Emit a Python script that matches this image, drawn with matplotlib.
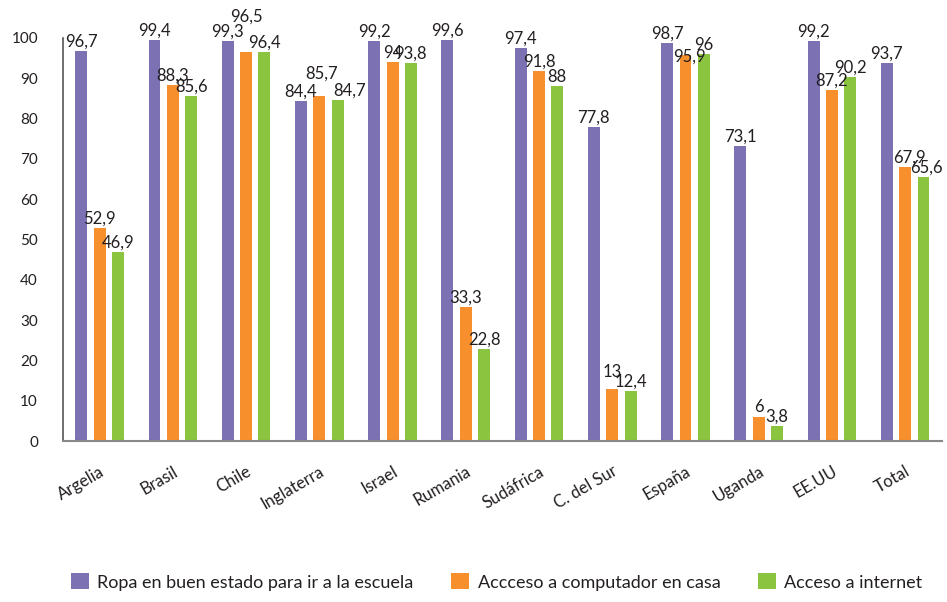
# Acceso a recursos por pais - barras agrupadas
import numpy as np
import matplotlib
matplotlib.use("Agg")
import matplotlib.pyplot as plt
from matplotlib.patches import Patch

# =====================================================
# DATOS
# =====================================================

paises = ["Argelia", "Brasil", "Chile", "Inglaterra", "Israel", "Rumania",
          "Sudáfrica", "C. del Sur", "España", "Uganda", "EE.UU", "Total"]

ropa = [96.7, 99.4, 99.3, 84.4, 99.2, 99.6, 97.4, 77.8, 98.7, 73.1, 99.2, 93.7]
computador = [52.9, 88.3, 96.5, 85.7, 94.0, 33.3, 91.8, 13.0, 95.9, 6.0, 87.2, 67.9]
internet = [46.9, 85.6, 96.4, 84.7, 93.8, 22.8, 88.0, 12.4, 96.0, 3.8, 90.2, 65.6]

series = ["Ropa en buen estado para ir a la escuela",
          "Accceso a computador en casa",
          "Acceso a internet"]

# =====================================================
# ESTILO
# =====================================================

plt.rcParams["font.family"] = ["Lato", "DejaVu Sans"]
cores = ["#7b71b3", "#f68f2c", "#8bc43f"]
texto = "#231f20"

fig = plt.figure(figsize=(9.47, 6.02), dpi=100)
ax = fig.add_axes([0.0665, 0.2674, 0.928, 0.6695])

x = np.arange(len(paises))
largura = 0.163
desloc = 0.25

# pequeños ajustes de etiquetas (dx en unidades de x, dy en puntos)
ajuste = {
    (2, 1): (0.0, 19),
    (3, 1): (0.03, 9),
    (3, 2): (0.16, 0),
    (7, 1): (0.0, 5),
    (8, 1): (0.05, -8),
    (11, 1): (0.06, 0),
    (11, 2): (0.04, 0),
}

for i, (vals, cor) in enumerate(zip([ropa, computador, internet], cores)):
    pos = x + (i - 1) * desloc
    ax.bar(pos, vals, width=largura, color=cor, zorder=2)
    for j, (p, v) in enumerate(zip(pos, vals)):
        dx, dy = ajuste.get((j, i), (0.0, 0))
        rot = f"{v:g}".replace(".", ",")
        ax.annotate(rot, (p + dx, v), xytext=(0, 1 + dy),
                    textcoords="offset points", ha="center", va="bottom",
                    fontsize=12, color=texto, clip_on=False)

ax.set_xlim(-0.5, len(paises) - 0.5)
ax.set_ylim(0, 100)
ax.set_yticks(np.arange(0, 101, 10))
ax.tick_params(axis="y", length=0, pad=18, labelsize=11, labelcolor=texto)
ax.tick_params(axis="x", length=0, pad=16, labelsize=12, labelcolor=texto)
ax.set_xticks(x)
ax.set_xticklabels(paises, rotation=30, ha="right", rotation_mode="anchor")

for lado in ["top", "right"]:
    ax.spines[lado].set_visible(False)
ax.spines["left"].set_color("#555555")
ax.spines["bottom"].set_color("#888888")
ax.spines["left"].set_linewidth(1.2)
ax.spines["bottom"].set_linewidth(1.5)

# =====================================================
# LEYENDA
# =====================================================

handles = [Patch(facecolor=c, edgecolor="none") for c in cores]
fig.legend(handles, series, loc="lower left", bbox_to_anchor=(0.0655, 0.004),
           ncol=3, frameon=False, fontsize=13, handlelength=1.0,
           handleheight=1.0, handletextpad=0.45, columnspacing=2.1,
           borderpad=0, labelcolor=texto)

plt.savefig("out.png", dpi=100)
